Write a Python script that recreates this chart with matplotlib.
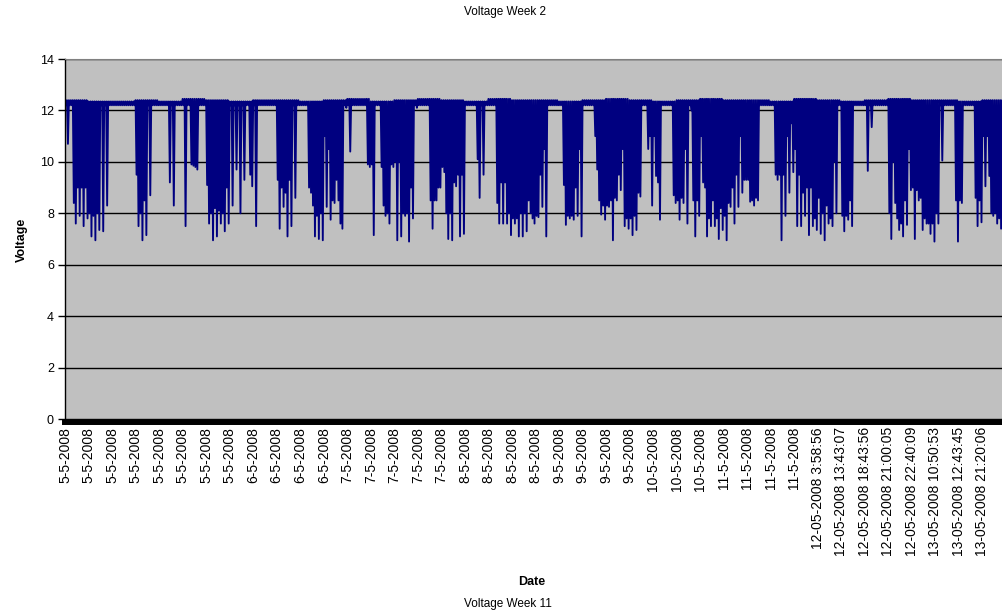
import matplotlib
matplotlib.use("Agg")
from matplotlib import pyplot as plt
import numpy as np

plt.rcParams['font.family'] = ['Liberation Sans', 'DejaVu Sans']

# Lowest voltage in each slice of the trace (6 slices per date label)
lows = [
    10.7, 12.2, 7.6, 7.9, 7.5, 7.8,
    7.1, 6.95, 7.35, 7.3, 8.3, 12.2,
    12.2, 12.2, 12.2, 12.2, 12.2, 12.2,
    7.5, 6.95, 7.15, 8.7, 12.2, 12.2,
    12.2, 12.2, 9.2, 8.3, 12.2, 12.2,
    7.5, 12.2, 9.85, 9.7, 12.2, 12.2,
    7.6, 6.95, 7.1, 7.6, 7.3, 7.6,
    8.3, 9.7, 8.0, 9.3, 12.2, 9.05,
    7.5, 12.2, 12.2, 12.2, 12.2, 12.2,
    7.4, 8.25, 7.1, 7.5, 8.6, 12.2,
    12.2, 12.2, 8.8, 7.1, 7.0, 6.95,
    8.25, 7.75, 8.4, 8.5, 7.4, 12.1,
    10.4, 12.2, 12.2, 12.2, 12.2, 9.8,
    7.15, 12.2, 9.8, 7.9, 7.6, 9.8,
    6.95, 7.1, 7.9, 6.9, 7.8, 12.1,
    12.2, 12.2, 12.2, 7.4, 8.5, 9.0,
    9.6, 7.0, 6.95, 9.05, 7.1, 7.2,
    12.2, 12.2, 12.2, 8.6, 9.5, 12.2,
    12.2, 12.2, 7.6, 7.6, 7.6, 7.15,
    7.6, 7.1, 7.1, 7.3, 8.0, 7.6,
    7.85, 8.25, 7.1, 12.2, 12.2, 12.2,
    12.2, 7.55, 7.8, 7.75, 7.9, 7.1,
    12.2, 12.2, 12.2, 9.7, 7.95, 7.75,
    8.25, 6.95, 8.5, 8.9, 7.5, 7.4,
    7.15, 7.35, 8.65, 12.2, 10.5, 8.3,
    9.45, 7.75, 12.2, 12.2, 12.2, 8.4,
    7.75, 8.4, 7.6, 12.0, 7.1, 7.9,
    9.2, 7.1, 7.5, 7.5, 7.0, 7.35,
    6.95, 8.25, 7.6, 8.25, 8.8, 9.3,
    8.45, 8.3, 8.5, 12.2, 12.2, 12.2,
    12.2, 9.3, 6.95, 7.9, 8.8, 9.6,
    7.5, 7.5, 7.9, 7.15, 7.5, 7.35,
    7.2, 6.95, 7.6, 7.5, 8.0, 12.2,
    7.3, 7.75, 7.5, 12.2, 12.2, 12.2,
    9.65, 11.35, 12.2, 12.2, 12.2, 12.2,
    7.0, 8.4, 7.35, 7.1, 7.55, 8.9,
    7.0, 8.5, 7.35, 7.6, 7.2, 6.9,
    7.6, 10.05, 12.2, 12.2, 12.2, 6.9,
    8.4, 12.2, 12.2, 12.2, 7.5, 7.65,
    9.05, 9.45, 7.9, 7.6, 7.4, 7.1,
]

# Level down to which the trace is solid in each slice
body = [
    12.2, 12.2, 8.4, 9.0, 9.0, 9.0,
    8.0, 7.9, 8.0, 12.2, 12.2, 12.2,
    12.2, 12.2, 12.2, 12.2, 12.2, 12.2,
    9.5, 8.0, 8.5, 12.2, 12.2, 12.2,
    12.2, 12.2, 12.2, 12.2, 12.2, 12.2,
    12.2, 12.2, 9.9, 9.8, 12.2, 12.2,
    9.1, 8.0, 8.2, 8.1, 8.0, 9.0,
    12.2, 12.2, 12.2, 12.2, 12.2, 9.5,
    12.2, 12.2, 12.2, 12.2, 12.2, 12.2,
    9.3, 9.0, 8.8, 9.3, 12.2, 12.2,
    12.2, 12.2, 9.0, 8.3, 7.9, 8.0,
    11.0, 10.5, 8.5, 9.3, 7.6, 12.2,
    12.2, 12.2, 12.2, 12.2, 12.2, 9.9,
    9.9, 12.2, 12.2, 8.3, 8.0, 9.9,
    10.0, 10.0, 8.0, 8.0, 9.0, 12.2,
    12.2, 12.2, 12.2, 8.5, 8.5, 9.0,
    9.8, 8.0, 8.0, 9.2, 9.5, 9.5,
    12.2, 12.2, 12.2, 10.1, 12.2, 12.2,
    12.2, 12.2, 8.4, 9.2, 9.2, 8.0,
    7.8, 7.8, 8.0, 8.0, 8.5, 7.8,
    7.9, 9.5, 10.5, 12.2, 12.2, 12.2,
    12.2, 9.1, 7.9, 7.9, 9.0, 10.5,
    12.2, 12.2, 12.2, 11.0, 8.5, 8.3,
    8.3, 8.5, 8.6, 9.5, 10.5, 7.8,
    7.8, 7.9, 8.8, 12.2, 12.2, 11.0,
    11.0, 9.2, 12.2, 12.2, 12.2, 8.7,
    8.5, 8.6, 10.5, 12.2, 8.5, 8.5,
    11.0, 9.0, 7.8, 8.5, 7.8, 8.2,
    7.9, 8.4, 9.0, 9.5, 11.0, 9.3,
    9.3, 8.5, 8.6, 12.2, 12.2, 12.2,
    12.2, 9.5, 9.5, 9.5, 11.0, 11.5,
    10.5, 9.5, 8.8, 9.0, 9.0, 7.8,
    8.6, 8.0, 8.3, 7.8, 10.0, 12.2,
    7.9, 7.9, 8.5, 12.2, 12.2, 12.2,
    12.2, 12.2, 12.2, 12.2, 12.2, 12.2,
    8.0, 10.0, 7.8, 7.6, 8.5, 10.5,
    9.0, 8.9, 8.6, 7.8, 7.6, 7.6,
    8.0, 12.2, 12.2, 12.2, 12.2, 8.5,
    8.5, 12.2, 12.2, 12.2, 8.6, 8.5,
    11.0, 11.0, 8.0, 8.0, 7.8, 7.8,
]

# Top of the trace for each date label interval
highs = [
    12.4, 12.35, 12.35, 12.4, 12.35, 12.45, 12.4, 12.35, 12.4, 12.4,
    12.35, 12.4, 12.45, 12.35, 12.4, 12.45, 12.4, 12.35, 12.45, 12.4,
    12.4, 12.35, 12.4, 12.45, 12.4, 12.35, 12.4, 12.45, 12.4, 12.4,
    12.35, 12.45, 12.4, 12.35, 12.4, 12.45, 12.4, 12.4, 12.35, 12.4,
]

labels = (["5-5-2008"] * 8 + ["6-5-2008"] * 4 + ["7-5-2008"] * 5
          + ["8-5-2008"] * 4 + ["9-5-2008"] * 4 + ["10-5-2008"] * 3
          + ["11-5-2008"] * 4
          + ["12-05-2008 3:58:56", "12-05-2008 13:43:07", "12-05-2008 18:43:56",
             "12-05-2008 21:00:05", "12-05-2008 22:40:09", "13-05-2008 10:50:53",
             "13-05-2008 12:43:45", "13-05-2008 21:20:06"])

per_label = 6
hi_col = np.repeat(highs, per_label)
series = []
for h, b, lo in zip(hi_col, body, lows):
    series += [h, b, h, lo]
x = np.arange(len(series))
step = per_label * 4

fig = plt.figure(figsize=(10.03, 6.11), dpi=100)
ax = fig.add_axes([65 / 1003, 1 - 419 / 611, 941 / 1003, 360 / 611])
ax.set_facecolor("#c0c0c0")
ax.plot(x, series, color="#000080", lw=1.35)

# spine position resets the ticks, so do it before the labels
ax.spines["bottom"].set_linewidth(4.3)
ax.spines["bottom"].set_position(("outward", 1.8))
ax.spines["right"].set_visible(False)
ax.spines["top"].set_color("#808080")
ax.spines["left"].set_linewidth(1)

ax.set_ylim(0, 14)
ax.set_xlim(0, len(series))
ax.set_yticks(range(0, 15, 2))
ax.yaxis.grid(True, color="black", lw=1)
ax.tick_params(axis="y", length=5, width=1, pad=3, labelsize=9)

ax.set_xticks(np.arange(len(labels)) * step)
ax.set_xticklabels(labels, rotation=90, fontsize=10)
ax.tick_params(axis="x", length=0, pad=4)

fig.text(0.503, 1 - 12 / 611, "Voltage Week 2", ha="center", va="center", fontsize=8.5)
fig.text(532 / 1003, 1 - 582 / 611, "Date", ha="center", va="center",
         fontsize=9, fontweight="bold")
fig.text(508 / 1003, 1 - 604 / 611, "Voltage Week 11", ha="center", va="center",
         fontsize=8.5)
fig.text(22 / 1003, 1 - 240 / 611, "Voltage", ha="center", va="center",
         rotation=90, fontsize=9, fontweight="bold")

fig.savefig("out.png", dpi=100)
